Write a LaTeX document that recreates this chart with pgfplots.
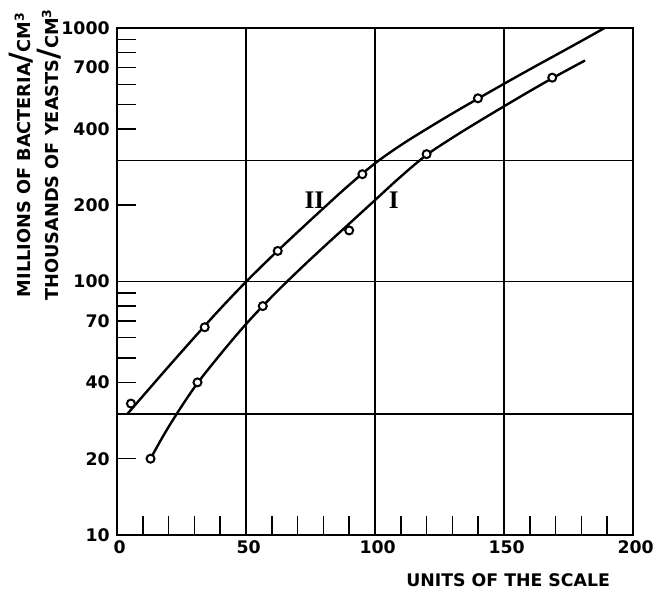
\documentclass[border=0pt]{standalone}
\usepackage{fontspec}
\setmainfont{DejaVu Sans}
\newfontfamily\romfont{Liberation Serif}
\usepackage{pgfplots}
\pgfplotsset{compat=1.18}
\begin{document}
\begin{tikzpicture}
\useasboundingbox (-87.75pt,-42.75pt) rectangle (406.5pt,401.25pt);
\begin{axis}[
  at={(0,0)}, anchor=south west,
  scale only axis, width=387pt, height=380.25pt,
  xmin=0, xmax=200, ymin=10, ymax=1000, ymode=log,
  clip mode=individual,
  xtick={0,50,100,150,200},
  minor xtick={10,20,30,40,60,70,80,90,110,120,130,140,160,170,180,190},
  ytick={10,20,40,70,100,200,400,700,1000},
  yticklabels={10,20,40,70,100,200,400,700,1000},
  minor ytick={50,60,80,90,500,600,800,900},
  extra y ticks={30,100,300}, extra y tick labels={},
  extra y tick style={grid=major, major tick length=0pt},
  xmajorgrids,
  tick align=inside, xtick pos=bottom, ytick pos=left,
  major tick length=14.5pt, minor tick length=14.5pt,
  every tick/.style={black, line width=1.1pt},
  axis line style={line width=2pt},
  grid style={black, line width=1.1pt},
  /pgf/number format/assume math mode=true,
  ticklabel style={font=\fontsize{13}{13}\selectfont\bfseries},
  yticklabel style={xshift=-2pt},
  xticklabel style={yshift=-1pt, xshift=2pt},
]
% curve II
\addplot[black, line width=1.8pt, smooth, tension=0.6] coordinates {
(4,30.0) (10,35.3) (20,46.2) (30,60.2) (40,78.0) (50,99.7) (60,125.6) (70,156.6) (80,194.5) (90,240.4) (100,292.4) (110,345.0) (120,399.6) (130,460.1) (140,527.0) (150,602.3) (160,686.9) (170,781.4) (180,888.9) (189,1000)};
% curve I
\addplot[black, line width=1.8pt, smooth, tension=0.6] coordinates {
(13,20.0) (20,26.7) (30,38.2) (40,51.5) (50,67.9) (60,87.1) (70,109.6) (80,136.5) (90,169.0) (100,209.4) (110,259.4) (120,315.5) (130,369.0) (140,426.6) (150,490.9) (160,563.6) (170,644.2) (181.4,744.7)};
% observations II
\addplot[only marks, mark=*, mark size=3pt, line width=1.5pt, mark options={draw=black, fill=white}] coordinates {
(5.4,33) (34,66) (62.3,132) (95.1,265) (139.9,528)};
% observations I
\addplot[only marks, mark=*, mark size=3pt, line width=1.5pt, mark options={draw=black, fill=white}] coordinates {
(13,20) (31.2,40) (56.5,80) (90,159) (120,318) (168.7,637)};
\node[font=\romfont\bfseries\fontsize{19}{19}\selectfont] at (axis cs:76.5,210) {II};
\node[font=\romfont\bfseries\fontsize{19}{19}\selectfont] at (axis cs:107.3,210) {I};
\node[font=\fontsize{13}{13}\selectfont\bfseries] at (rel axis cs:0.758,-0.089) {UNITS OF THE SCALE};
\node[rotate=90, font=\fontsize{13.3}{13.3}\selectfont\bfseries] at (rel axis cs:-0.185,0.75) {MILLIONS OF BACTERIA{\fontsize{22}{22}\selectfont/}CM\textsuperscript{3}};
\node[rotate=90, font=\fontsize{13.3}{13.3}\selectfont\bfseries] at (rel axis cs:-0.132,0.75) {THOUSANDS OF YEASTS{\fontsize{22}{22}\selectfont/}CM\textsuperscript{3}};
\end{axis}
\end{tikzpicture}
\end{document}
